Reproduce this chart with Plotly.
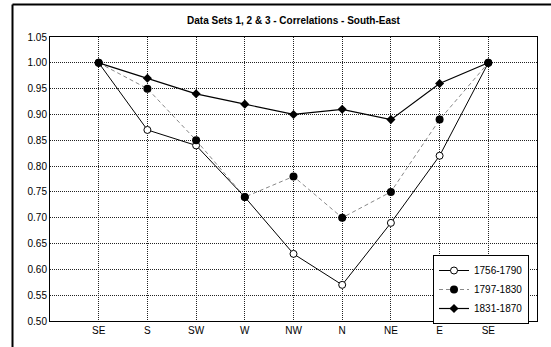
import plotly.graph_objects as go

directions = ["SE", "S", "SW", "W", "NW", "N", "NE", "E", "SE"]
series_names = ["1756-1790", "1797-1830", "1831-1870"]
vals_1756 = [1.00, 0.87, 0.84, 0.74, 0.63, 0.57, 0.69, 0.82, 1.00]
vals_1797 = [1.00, 0.95, 0.85, 0.74, 0.78, 0.70, 0.75, 0.89, 1.00]
vals_1831 = [1.00, 0.97, 0.94, 0.92, 0.90, 0.91, 0.89, 0.96, 1.00]
y_ticks = [0.50, 0.55, 0.60, 0.65, 0.70, 0.75, 0.80, 0.85, 0.90, 0.95, 1.00, 1.05]

xpos = list(range(len(directions)))
font = "Liberation Sans, Arial, sans-serif"

fig = go.Figure()
fig.add_trace(go.Scatter(
    x=xpos, y=vals_1756, name=series_names[0], mode="lines+markers",
    line=dict(color="black", width=1),
    marker=dict(symbol="circle", size=7, color="white", line=dict(color="black", width=1)),
))
fig.add_trace(go.Scatter(
    x=xpos, y=vals_1797, name=series_names[1], mode="lines+markers",
    line=dict(color="#888888", width=1, dash="4px,3px"),
    marker=dict(symbol="circle", size=8, color="black", line=dict(color="black", width=0)),
))
fig.add_trace(go.Scatter(
    x=xpos, y=vals_1831, name=series_names[2], mode="lines+markers",
    line=dict(color="black", width=1.2),
    marker=dict(symbol="diamond", size=7, color="black", line=dict(color="black", width=0)),
))

L, R, T, B = 50, 14, 37, 26
W, H = 551, 347
pw, ph = W - L - R, H - T - B

fx = (12.5 - L) / pw
fy = 1 + (T - 4.5) / ph

grid = dict(showgrid=True, gridcolor="#222222", griddash="1px,1px", gridwidth=1,
            showline=True, linecolor="black", linewidth=1, mirror=True,
            ticks="", zeroline=False, tickfont=dict(size=10, family=font))

fig.update_layout(
    width=W, height=H,
    margin=dict(l=L, r=R, t=T, b=B),
    paper_bgcolor="white", plot_bgcolor="white",
    font=dict(family=font, size=10, color="black"),
    title=dict(text="<b>Data Sets 1, 2 & 3 - Correlations - South-East</b>",
               x=0.5, xref="paper", xanchor="center", y=1 - 20 / H, yanchor="middle",
               font=dict(size=10, family=font, color="black")),
    xaxis=dict(range=[-1, len(directions)], tickmode="array", tickvals=xpos,
               ticktext=directions, **grid),
    yaxis=dict(range=[0.50, 1.05], tickmode="array", tickvals=y_ticks,
               ticktext=[f"{v:.2f}" for v in y_ticks], **grid),
    legend=dict(x=(529 - L) / pw, y=(H - B - 255) / ph, xanchor="right", yanchor="top",
                bgcolor="white", bordercolor="black", borderwidth=1,
                font=dict(size=10, family=font), tracegroupgap=0, itemwidth=30),
    showlegend=True,
    shapes=[
        dict(type="line", xref="paper", yref="paper", x0=fx, x1=fx, y0=-0.2, y1=fy,
             line=dict(color="black", width=2)),
        dict(type="line", xref="paper", yref="paper", x0=fx, x1=1.2, y0=fy, y1=fy,
             line=dict(color="black", width=2)),
    ],
)

fig.write_html("out.html", config={"displayModeBar": False},
               post_script="document.body.style.margin='0';document.body.style.overflow='hidden';")
